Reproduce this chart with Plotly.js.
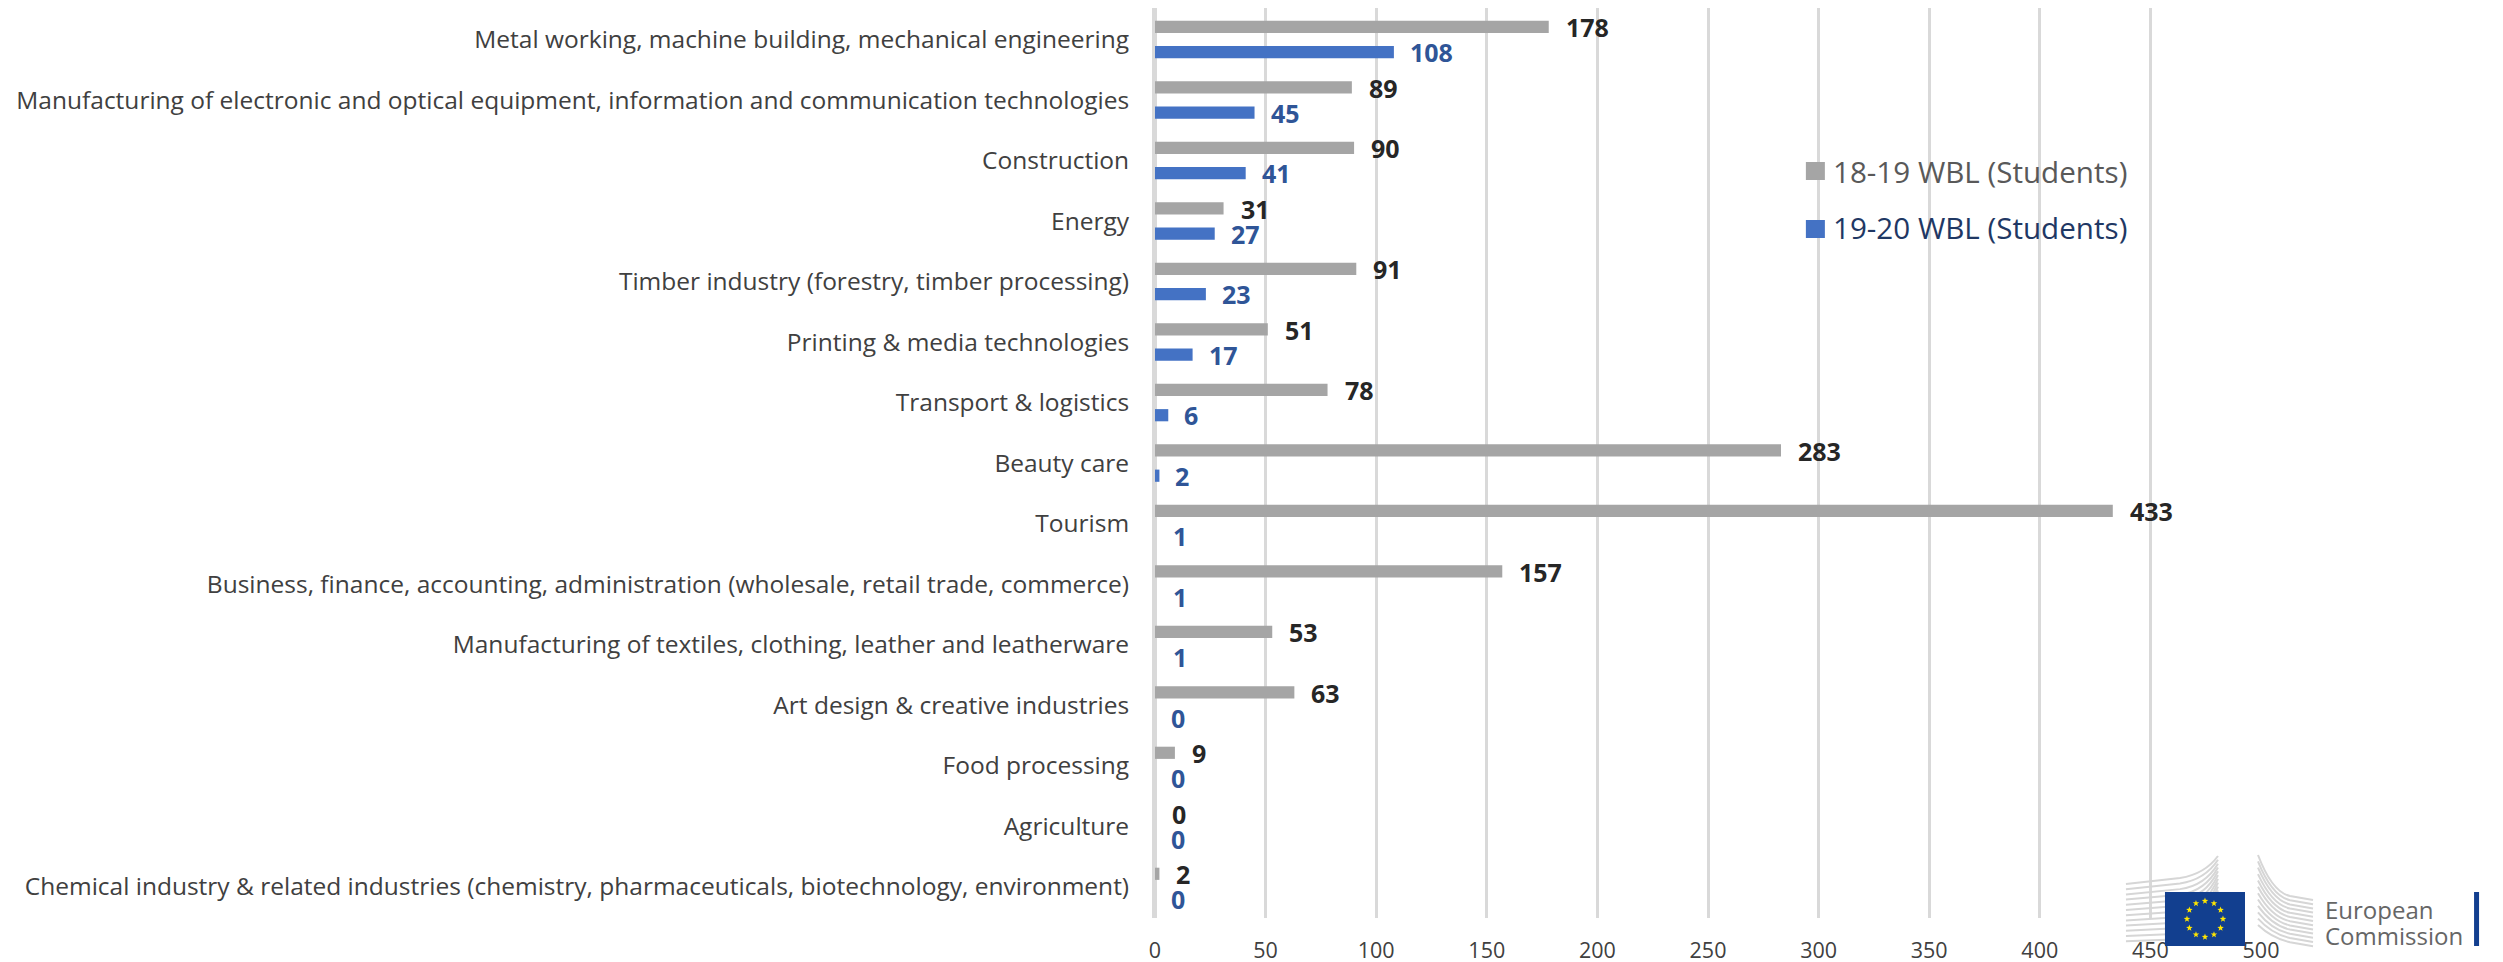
<!DOCTYPE html>
<html><head><meta charset="utf-8">
<script src="https://cdn.plot.ly/plotly-3.0.1.min.js"></script>
<style>html,body{margin:0;padding:0;background:#fff}</style></head>
<body><div id="chart" style="width:2503px;height:962px"></div>
<script>
const categories = [
 "Metal working, machine building, mechanical engineering",
 "Manufacturing of electronic and optical equipment, information and communication technologies",
 "Construction","Energy","Timber industry (forestry, timber processing)",
 "Printing & media technologies","Transport & logistics","Beauty care","Tourism",
 "Business, finance, accounting, administration (wholesale, retail trade, commerce)",
 "Manufacturing of textiles, clothing, leather and leatherware",
 "Art design & creative industries","Food processing","Agriculture",
 "Chemical industry & related industries (chemistry, pharmaceuticals, biotechnology, environment)"];
const wbl1819 = [178,89,90,31,91,51,78,283,433,157,53,63,9,0,2];
const wbl1920 = [108,45,41,27,23,17,6,2,1,1,1,0,0,0,0];
const seriesNames = ["18-19 WBL (Students)","19-20 WBL (Students)"];
const xTicks = [0,50,100,150,200,250,300,350,400,450,500];

const W=2503,H=962,L=1155.3,R=2261,T=8,B=918;
const px=x=>(x-L)/(R-L), py=y=>(B-y)/(B-T);
const FONT='"Open Sans", sans-serif';
const GREY='#a5a5a5',BLUE='#4472c4';

const traces=[
 {type:'bar',orientation:'h',name:seriesNames[0],y:categories,x:wbl1819,marker:{color:GREY},showlegend:false,hoverinfo:'x+y'},
 // bars of value 1 are too thin to show in the reference: they vanish against the axis line
 {type:'bar',orientation:'h',name:seriesNames[1],y:categories,x:wbl1920,
  marker:{color:wbl1920.map(v=>v<2?'rgba(0,0,0,0)':BLUE)},showlegend:false,hoverinfo:'x+y'}
];

const ann=[];
categories.forEach((c,i)=>{
 ann.push({x:wbl1819[i],y:c,text:'<b>'+wbl1819[i]+'</b>',showarrow:false,xanchor:'left',xshift:15,yshift:12.5,
   font:{family:FONT,size:25,color:'#262626'}});
 ann.push({x:wbl1920[i],y:c,text:'<b>'+wbl1920[i]+'</b>',showarrow:false,xanchor:'left',xshift:14,yshift:-12.5,
   font:{family:FONT,size:25,color:'#2f5597'}});
});
const paperText=(x,y,t,size,color)=>({xref:'paper',yref:'paper',x:px(x),y:py(y),text:t,showarrow:false,xanchor:'left',yanchor:'middle',
   font:{family:FONT,size:size,color:color}});
ann.push(paperText(1831,171,seriesNames[0],29.6,'#595959'));
ann.push(paperText(1831,227,seriesNames[1],29.6,'#1f3864'));
ann.push(paperText(2323,909,'European',24,'#666666'));
ann.push(paperText(2323,936,'Commission',24,'#666666'));

const rect=(x0,y0,x1,y1,c)=>({type:'rect',xref:'paper',yref:'paper',x0:px(x0),x1:px(x1),y0:py(y0),y1:py(y1),fillcolor:c,line:{width:0},layer:'above'});
const shapes=[rect(1806,162,1825,180,GREY),rect(1806,220,1825,238,BLUE)];

let s='<svg xmlns="http://www.w3.org/2000/svg" width="365" height="100" viewBox="2120 850 365 100">';
for(let k=0;k<12;k++){
  const y=884+k*5.2, t=k/11;
  s+=`<path d="M2126 ${y} L2180 ${y-6+t*4} Q2205 ${y-10+t*6} 2218 ${856+t*42} " fill="none" stroke="#d6d6d6" stroke-width="2"/>`;
  const y2=900+k*4.2;
  s+=`<path d="M2258 ${855+t*70} Q2272 ${y2-8} 2290 ${y2-4} L2313 ${y2}" fill="none" stroke="#d6d6d6" stroke-width="2"/>`;
}
s+='<rect x="2165" y="892" width="80" height="54" fill="#123f8f"/>';
for(let k=0;k<12;k++){
  const a=k*Math.PI/6, cx=2205+18*Math.sin(a), cy=919-18*Math.cos(a);
  let p='';
  for(let j=0;j<10;j++){const r=j%2?1.4:3.4,b=j*Math.PI/5;p+=(cx+r*Math.sin(b)).toFixed(2)+','+(cy-r*Math.cos(b)).toFixed(2)+' ';}
  s+=`<polygon points="${p}" fill="#ffe600"/>`;
}
s+='<rect x="2474" y="892" width="5" height="54" fill="#123f8f"/></svg>';

const layout={
 width:W,height:H,paper_bgcolor:'#fff',plot_bgcolor:'#fff',
 margin:{l:L,r:W-R,t:T,b:H-B,pad:0},
 barmode:'group',bargap:0.16,bargroupgap:0.52,showlegend:false,
 font:{family:FONT,color:'#404040'},
 xaxis:{range:[0,500],tickvals:xTicks,ticktext:xTicks.map(String),showgrid:true,gridcolor:'#d9d9d9',gridwidth:2.5,
   zeroline:true,zerolinecolor:'#d9d9d9',zerolinewidth:2.5,showline:false,ticks:'',ticklabelstandoff:17,tickfont:{family:FONT,size:21.5,color:'#404040'},automargin:false},
 yaxis:{type:'category',categoryorder:'array',categoryarray:categories,autorange:'reversed',showgrid:false,zeroline:false,
   showline:true,linecolor:'#d9d9d9',linewidth:3,layer:'above traces',
   ticks:'',ticklabelstandoff:18,tickfont:{family:FONT,size:24.5,color:'#404040'},automargin:false},
 annotations:ann,shapes:shapes,
 images:[{source:'data:image/svg+xml;utf8,'+encodeURIComponent(s),xref:'paper',yref:'paper',
   x:px(2120),y:py(850),sizex:365/(R-L),sizey:100/(B-T),xanchor:'left',yanchor:'top',sizing:'stretch',layer:'above'}]
};
Plotly.newPlot('chart',traces,layout,{displayModeBar:false,responsive:false});
</script></body></html>
